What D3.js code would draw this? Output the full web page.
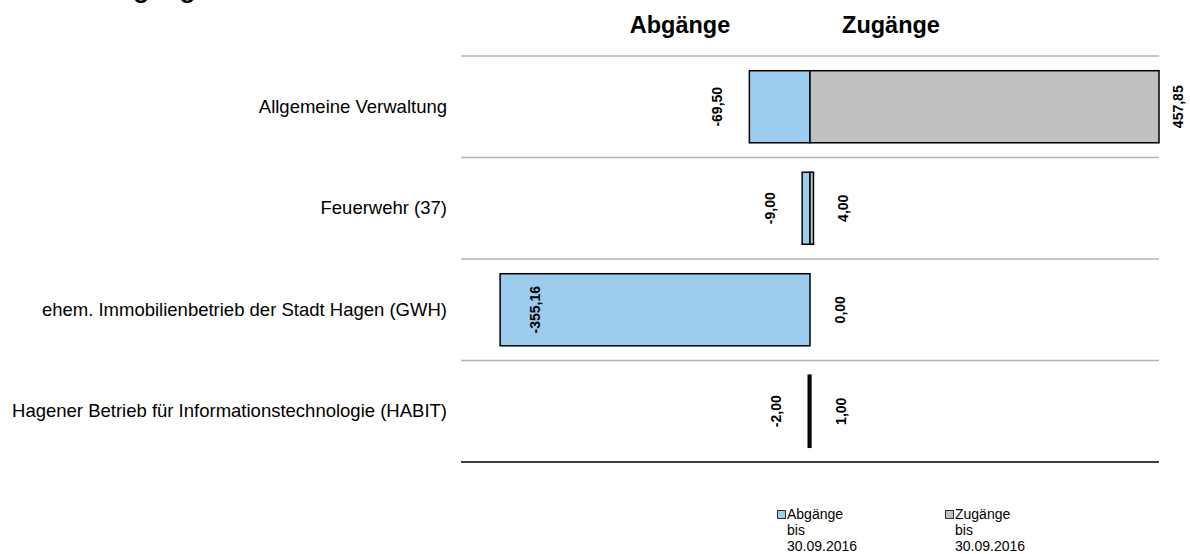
<!DOCTYPE html>
<html>
<head>
<meta charset="utf-8">
<script src="https://cdn.jsdelivr.net/npm/d3@7"></script>
<style>
  body { margin: 0; background: #fff; }
  text { font-family: "Liberation Sans", Arial, sans-serif; }
</style>
</head>
<body>
<div id="chart"></div>
<script>
// data
var categories = [
  'Allgemeine Verwaltung',
  'Feuerwehr (37)',
  'ehem. Immobilienbetrieb der Stadt Hagen (GWH)',
  'Hagener Betrieb für Informationstechnologie (HABIT)'
];
var abgaenge = [-69.50, -9.00, -355.16, -2.00];
var zugaenge = [457.85, 4.00, 0.00, 1.00];
var seriesNames = ['Abgänge', 'Zugänge'];
var legendLabels = [['Abgänge', 'bis', '30.09.2016'], ['Zugänge', 'bis', '30.09.2016']];
var axisDomain = [-400, 400];

var width = 1190;
var height = 554;
var blue = '#9dcdee';
var grey = '#c0c0c0';

var plot = { left: 461, right: 1159, top: 56, bottom: 462 };

function fmt(v) {
  return v.toFixed(2).replace('.', ',');
}

var svg = d3.select('#chart')
  .append('svg')
  .attr('width', width)
  .attr('height', height)

var x = d3.scaleLinear()
  .domain(axisDomain)
  .range([plot.left, plot.right])
  .clamp(true);

var y = d3.scaleBand()
  .domain(categories)
  .range([plot.top, plot.bottom])
  .paddingInner(0.29)
  .paddingOuter(0.145);

var step = y.step();

// title, mostly above the visible area
svg.append('text')
  .attr('x', -3)
  .attr('y', -2.5)
  .attr('font-size', 26)
  .attr('font-weight', 'bold')
  .text('Zu- und Abgänge');

// column headers
svg.selectAll('.header')
  .data(seriesNames)
  .enter()
  .append('text')
  .attr('class', 'header')
  .attr('text-anchor', 'middle')
  .attr('x', function (d, i) { return i === 0 ? 680 : 891; })
  .attr('y', 33)
  .attr('font-size', 23.5)
  .attr('font-weight', 'bold')
  .text(function (d) { return d; });

// grid lines between categories
svg.selectAll('.grid')
  .data(categories)
  .enter()
  .append('line')
  .attr('class', 'grid')
  .attr('x1', plot.left)
  .attr('x2', plot.right)
  .attr('y1', function (d) { return y(d) - step * y.paddingInner() / 2; })
  .attr('y2', function (d) { return y(d) - step * y.paddingInner() / 2; })
  .attr('stroke', '#b4b4b4')
  .attr('stroke-width', 1.5);

svg.append('line')
  .attr('x1', plot.left)
  .attr('x2', plot.right)
  .attr('y1', plot.bottom)
  .attr('y2', plot.bottom)
  .attr('stroke', '#000')
  .attr('stroke-width', 1.5);

// category labels
svg.selectAll('.cat')
  .data(categories)
  .enter()
  .append('text')
  .attr('class', 'cat')
  .attr('text-anchor', 'end')
  .attr('x', 447)
  .attr('y', function (d) { return y(d) + y.bandwidth() / 2 + 6; })
  .attr('font-size', 18.5)
  .attr('fill', '#000')
  .text(function (d) { return d; });

// bars
var rows = categories.map(function (c, i) {
  return { cat: c, neg: abgaenge[i], pos: zugaenge[i] };
});

svg.selectAll('.bar-neg')
  .data(rows)
  .enter()
  .append('rect')
  .attr('class', 'bar-neg')
  .attr('x', function (d) { return x(d.neg); })
  .attr('width', function (d) { return x(0) - x(d.neg); })
  .attr('y', function (d) { return y(d.cat); })
  .attr('height', y.bandwidth())
  .attr('fill', blue)
  .attr('stroke', '#000')
  .attr('stroke-width', 1.5);

svg.selectAll('.bar-pos')
  .data(rows.filter(function (d) { return d.pos > 0; }))
  .enter()
  .append('rect')
  .attr('class', 'bar-pos')
  .attr('x', x(0))
  .attr('width', function (d) { return x(d.pos) - x(0); })
  .attr('y', function (d) { return y(d.cat); })
  .attr('height', y.bandwidth())
  .attr('fill', grey)
  .attr('stroke', '#000')
  .attr('stroke-width', 1.5);

// value labels (rotated)
function negLabelX(d) {
  var len = x(0) - x(d.neg);
  return len > 200 ? x(d.neg) + 35 : x(d.neg) - 32;
}
function posLabelX(d) {
  return d.pos > axisDomain[1] ? x(d.pos) + 19 : x(d.pos) + 30;
}

function addLabels(cls, fx, fv) {
  svg.selectAll('.' + cls)
    .data(rows)
    .enter()
    .append('text')
    .attr('class', cls)
    .attr('text-anchor', 'middle')
    .attr('dominant-baseline', 'central')
    .attr('font-size', 14)
    .attr('font-weight', 'bold')
    .attr('transform', function (d) {
      return 'translate(' + fx(d) + ',' + (y(d.cat) + y.bandwidth() / 2) + ') rotate(-90)';
    })
    .text(function (d) { return fmt(fv(d)); });
}
addLabels('lab-neg', negLabelX, function (d) { return d.neg; });
addLabels('lab-pos', posLabelX, function (d) { return d.pos; });

// legend
var legend = svg.selectAll('.legend')
  .data(legendLabels)
  .enter()
  .append('g')
  .attr('class', 'legend')
  .attr('transform', function (d, i) { return 'translate(' + (777 + i * 168) + ',510)'; });

legend.append('rect')
  .attr('x', 0.5)
  .attr('y', 0.5)
  .attr('width', 8)
  .attr('height', 8)
  .attr('fill', function (d, i) { return i === 0 ? blue : grey; })
  .attr('stroke', '#333')
  .attr('stroke-width', 1);

legend.selectAll('text')
  .data(function (d) { return d; })
  .enter()
  .append('text')
  .attr('x', 10)
  .attr('y', function (d, i) { return 9 + i * 16; })
  .attr('font-size', 14)
  .text(function (d) { return d; });
</script>
</body>
</html>
